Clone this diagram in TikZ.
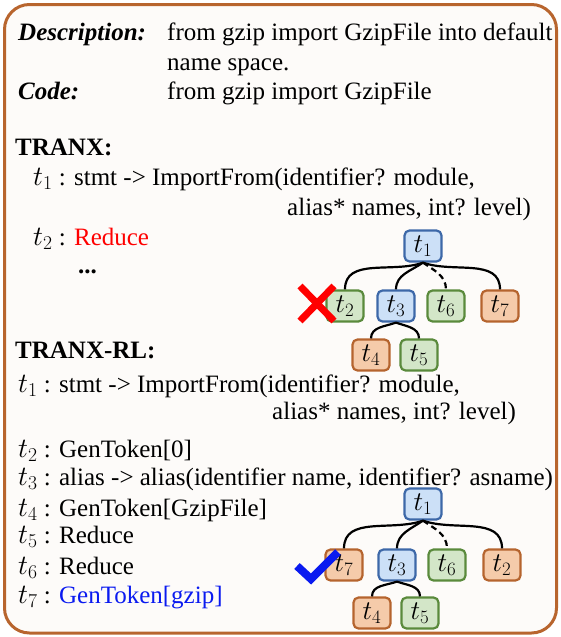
\documentclass[tikz,border=0pt]{standalone}
\usepackage{fix-cm}
\usepackage{fontspec}
\setmainfont{Liberation Serif}
\definecolor{frameC}{HTML}{B8652E}
\definecolor{bgC}{HTML}{FDFBF9}
\definecolor{blueF}{HTML}{CCE0F7}
\definecolor{blueD}{HTML}{3D68A8}
\definecolor{greenF}{HTML}{D3E6C8}
\definecolor{greenD}{HTML}{5A8A3C}
\definecolor{orangeF}{HTML}{F5CBAA}
\definecolor{orangeD}{HTML}{B5642E}
\definecolor{tokBlue}{HTML}{0A1AF0}
\newcommand{\tk}[1]{{\fontsize{28}{30}\selectfont$t_{#1}$}}
\tikzset{
  txt/.style={anchor=base west, inner sep=0pt, font=\fontsize{25}{30}\selectfont},
  tnode/.style={draw, rounded corners=5pt, line width=2.2pt, minimum width=37pt, minimum height=31pt, inner sep=0pt, font=\fontsize{27}{30}\selectfont},
  bluebox/.style={tnode, fill=blueF, draw=blueD},
  greenbox/.style={tnode, fill=greenF, draw=greenD},
  orangebox/.style={tnode, fill=orangeF, draw=orangeD},
  link/.style={line width=2.2pt},
  dlink/.style={link, dash pattern=on 6pt off 4pt},
}
\begin{document}
\begin{tikzpicture}[x=1pt, y=-1pt]
    \useasboundingbox (0,0) rectangle (560,637);
    \draw[frameC, line width=3pt, fill=bgC, rounded corners=25pt] (4.5,4.5) rectangle (556.5,633);

    % description and code
    \node[txt] (desc) at (18,40) {\textbf{\textit{Description:}}};
    \node[txt] (descA) at (167,40) {from gzip import GzipFile into default};
    \node[txt] (descB) at (167,70) {name space.};
    \node[txt] (code) at (18,99) {\textbf{\textit{Code:}}};
    \node[txt] (codeA) at (167,99) {from gzip import GzipFile};

    % TRANX
    \node[txt] (tranx) at (15,155) {\textbf{TRANX:}};
    \node[txt] (xa1) at (33,185) {\tk{1} : stmt -> ImportFrom(identifier? module,};
    \node[txt] (xa1b) at (287,215) {alias* names, int? level)};
    \node[txt] (xa2) at (33,245) {\tk{2} : \textcolor{red}{Reduce}};
    \node[txt] (xdots) at (78,273) {\textbf{...}};

    % TRANX-RL
    \node[txt] (tranxrl) at (15,358) {\textbf{TRANX-RL:}};
    \node[txt] (ra1) at (18,392) {\tk{1} : stmt -> ImportFrom(identifier? module,};
    \node[txt] (ra1b) at (272,419) {alias* names, int? level)};
    \node[txt] (ra2) at (18,457) {\tk{2} : GenToken[0]};
    \node[txt] (ra3) at (18,485) {\tk{3} : alias -> alias(identifier name, identifier? asname)};
    \node[txt] (ra4) at (18,516) {\tk{4} : GenToken[GzipFile]};
    \node[txt] (ra5) at (18,543) {\tk{5} : Reduce};
    \node[txt] (ra6) at (18,574) {\tk{6} : Reduce};
    \node[txt] (ra7) at (18,603) {\tk{7} : \textcolor{tokBlue}{GenToken[gzip]}};

    % tree of TRANX
    \node[bluebox] (a1) at (423,246) {$t_1$};
    \node[greenbox] (a2) at (345,306) {$t_2$};
    \node[bluebox] (a3) at (396,306) {$t_3$};
    \node[greenbox] (a6) at (446,306) {$t_6$};
    \node[orangebox] (a7) at (500,306) {$t_7$};
    \node[orangebox] (a4) at (371,355) {$t_4$};
    \node[greenbox] (a5) at (419,355) {$t_5$};
    \draw[link] (a1.south) to[out=200, in=90] (a2.north);
    \draw[link] (a1.south) to[out=215, in=90] (a3.north);
    \draw[dlink] (a1.south) to[out=-35, in=90] (a6.north);
    \draw[link] (a1.south) to[out=-20, in=90] (a7.north);
    \draw[link] (a3.south) to[out=200, in=90] (a4.north);
    \draw[link] (a3.south) to[out=-20, in=90] (a5.north);
    \draw[red, line width=7pt] (300,286) -- (334,321) (300,321) -- (334,286);

    % tree of TRANX-RL
    \node[bluebox] (b1) at (423,504) {$t_1$};
    \node[orangebox] (b7) at (344,565) {$t_7$};
    \node[bluebox] (b3) at (397,565) {$t_3$};
    \node[greenbox] (b6) at (447,565) {$t_6$};
    \node[orangebox] (b2) at (502,565) {$t_2$};
    \node[orangebox] (b4) at (372,613) {$t_4$};
    \node[greenbox] (b5) at (420,613) {$t_5$};
    \draw[link] (b1.south) to[out=200, in=90] (b7.north);
    \draw[link] (b1.south) to[out=215, in=90] (b3.north);
    \draw[dlink] (b1.south) to[out=-35, in=90] (b6.north);
    \draw[link] (b1.south) to[out=-20, in=90] (b2.north);
    \draw[link] (b3.south) to[out=200, in=90] (b4.north);
    \draw[link] (b3.south) to[out=-20, in=90] (b5.north);
    \draw[tokBlue, line width=8pt, line join=miter] (297,566) -- (311,579) -- (338,552);
\end{tikzpicture}
\end{document}
